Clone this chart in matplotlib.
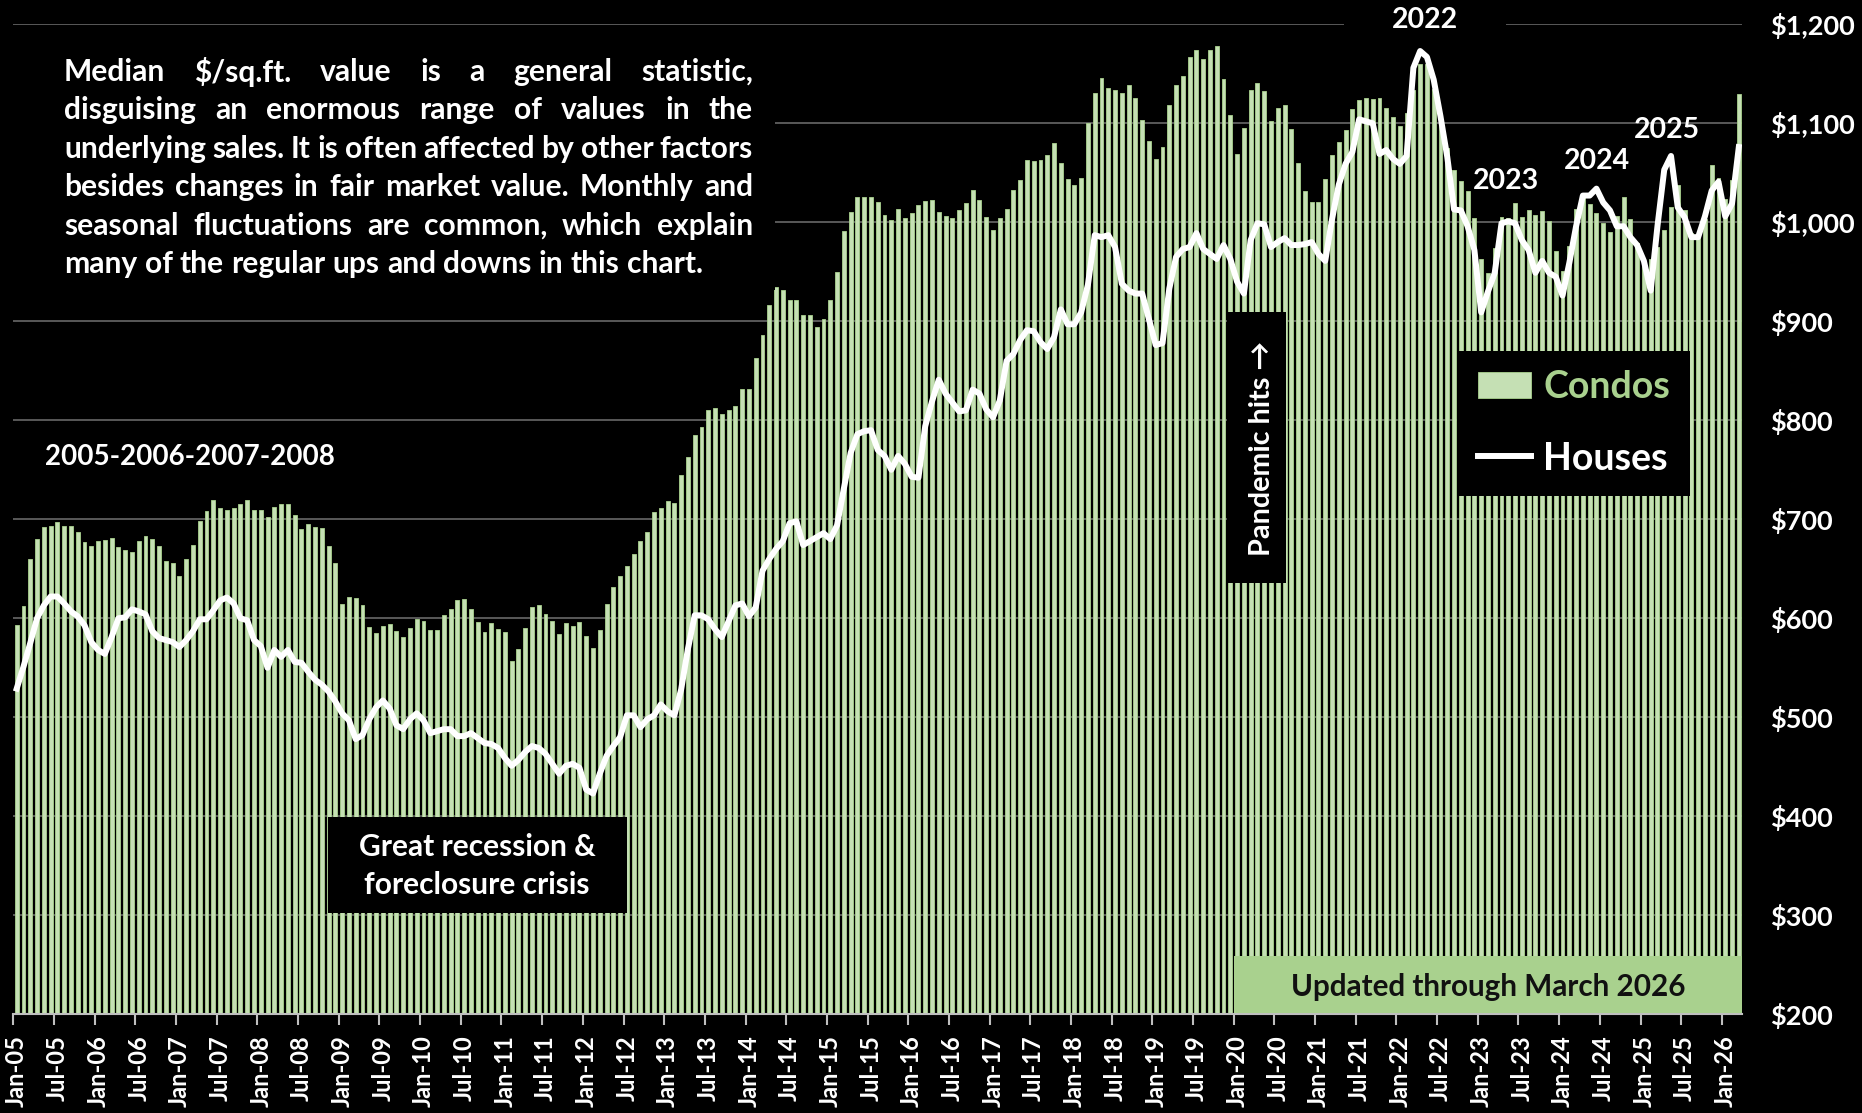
import matplotlib
matplotlib.use('Agg')
import matplotlib.pyplot as plt
import matplotlib.transforms as mtransforms
from matplotlib.patches import Rectangle
import numpy as np
import pandas as pd

plt.rcParams['font.family'] = ['Lato', 'DejaVu Sans']
plt.rcParams['font.weight'] = 'bold'
plt.rcParams['text.parse_math'] = False

# monthly data, Jan-2005 .. Mar-2026
months = pd.date_range('2005-01-01', '2026-03-01', freq='MS')

condos = [593, 612, 660, 680, 692, 693, 697, 693, 693, 687, 677, 673,
          678, 679, 681, 672, 669, 667, 678, 683, 680, 673, 658, 656,
          643, 660, 674, 698, 708, 719, 711, 709, 711, 715, 719, 709,
          709, 702, 712, 715, 715, 704, 690, 695, 692, 691, 673, 656,
          614, 622, 621, 613, 591, 585, 592, 594, 587, 581, 590, 599,
          597, 588, 588, 603, 609, 618, 619, 609, 596, 586, 595, 589,
          586, 557, 569, 590, 611, 613, 604, 597, 584, 595, 592, 596,
          582, 570, 588, 614, 632, 643, 653, 665, 678, 687, 707, 711,
          718, 716, 745, 763, 785, 793, 810, 812, 806, 810, 814, 832,
          832, 863, 886, 916, 935, 932, 922, 922, 906, 906, 894, 902,
          922, 950, 991, 1010, 1026, 1026, 1026, 1021, 1007, 1002, 1013, 1004,
          1009, 1017, 1022, 1023, 1010, 1006, 1004, 1012, 1020, 1033, 1023, 1005,
          992, 1004, 1013, 1033, 1043, 1063, 1062, 1063, 1068, 1080, 1060, 1044,
          1038, 1045, 1100, 1131, 1146, 1136, 1134, 1131, 1139, 1126, 1103, 1082,
          1064, 1076, 1118, 1139, 1148, 1167, 1174, 1165, 1174, 1178, 1145, 1108,
          1069, 1095, 1134, 1141, 1133, 1102, 1115, 1118, 1094, 1060, 1032, 1021,
          1021, 1044, 1068, 1081, 1093, 1114, 1124, 1126, 1125, 1126, 1115, 1106,
          1097, 1110, 1134, 1160, 1160, 1135, 1104, 1075, 1053, 1042, 1032, 1004,
          963, 949, 974, 1005, 1004, 1020, 1005, 1012, 1007, 1011, 1001, 971,
          951, 976, 1013, 1029, 1018, 1009, 999, 990, 1006, 1026, 1003, 979,
          961, 963, 975, 992, 1015, 1038, 1012, 989, 986, 1003, 1058, 1045,
          1024, 1043, 1130]

houses = [529, 551, 575, 600, 613, 622, 622, 615, 607, 602, 593, 576,
          568, 564, 581, 600, 601, 609, 607, 604, 587, 580, 578, 576,
          571, 578, 587, 599, 599, 608, 618, 621, 615, 600, 598, 578,
          572, 550, 568, 561, 568, 556, 555, 546, 538, 533, 526, 516,
          504, 497, 478, 482, 498, 510, 517, 509, 492, 488, 498, 504,
          497, 484, 486, 488, 488, 481, 481, 484, 479, 474, 473, 469,
          459, 451, 457, 465, 471, 469, 463, 453, 443, 451, 453, 449,
          427, 423, 443, 461, 471, 480, 502, 502, 490, 498, 502, 513,
          506, 502, 528, 569, 603, 603, 599, 589, 581, 597, 613, 615,
          602, 611, 648, 660, 670, 678, 696, 698, 674, 678, 682, 686,
          680, 694, 731, 767, 786, 789, 790, 770, 764, 750, 764, 756,
          743, 742, 794, 819, 841, 827, 818, 809, 810, 831, 827, 811,
          803, 820, 860, 867, 881, 891, 890, 879, 872, 884, 912, 897,
          897, 909, 937, 987, 985, 987, 975, 938, 931, 928, 928, 902,
          876, 878, 933, 965, 973, 975, 989, 973, 968, 963, 977, 963,
          940, 928, 982, 999, 998, 975, 980, 984, 977, 977, 978, 980,
          968, 961, 1003, 1038, 1059, 1071, 1104, 1102, 1100, 1069, 1073, 1064,
          1059, 1067, 1156, 1173, 1167, 1144, 1107, 1066, 1013, 1012, 996, 972,
          909, 930, 949, 999, 1001, 999, 982, 972, 949, 961, 949, 945,
          926, 959, 996, 1027, 1027, 1034, 1020, 1012, 996, 996, 985, 977,
          961, 931, 996, 1053, 1067, 1015, 1005, 985, 985, 1006, 1032, 1041,
          1006, 1019, 1076]

price_ticks = list(range(200, 1201, 100))

note_lines = ["Median $/sq.ft. value is a general statistic,",
              "disguising an enormous range of values in the",
              "underlying sales. It is often affected by other factors",
              "besides changes in fair market value. Monthly and",
              "seasonal fluctuations are common, which explain",
              "many of the regular ups and downs in this chart."]

GREEN = '#a9d18e'
LIGHT = '#c5e0b4'
GRID = '#595959'

W, H = 1862, 1113
fig = plt.figure(figsize=(W / 100, H / 100), dpi=100, facecolor='black')
# pixel coords with origin top-left
px = mtransforms.Affine2D().scale(1 / W, -1 / H).translate(0, 1) + fig.transFigure

ax = fig.add_axes([13.3 / W, 1 - 1014.3 / H, (1742.2 - 13.3) / W, (1014.3 - 24.3) / H])
ax.set_facecolor('black')

x = np.arange(len(months))
bars = ax.bar(x, condos, width=0.58, color=LIGHT, edgecolor=GREEN, linewidth=0.6,
              zorder=2, label='Condos')
line, = ax.plot(x, houses, color='white', lw=4.3, zorder=3, solid_joinstyle='round',
                label='Houses')

ax.set_xlim(-0.5, len(months) - 0.5)
ax.set_ylim(200, 1200)
ax.set_yticks(price_ticks)
ax.set_yticklabels([f'${v:,}' for v in price_ticks])
ax.yaxis.tick_right()
ax.tick_params(axis='y', length=0, pad=20, labelsize=19.5, labelcolor='white')
ax.yaxis.grid(True, color=GRID, lw=1.4)
ax.set_axisbelow(True)

ax.set_xticks(x[::6])
ax.set_xticklabels([m.strftime('%b-%y') for m in months[::6]], rotation=90)
ax.set_xticks(x[::6] - 0.5, minor=True)
ax.tick_params(axis='x', which='major', length=0, pad=15, labelsize=17, labelcolor='white')
ax.tick_params(axis='x', which='minor', length=8, width=1.5, color='#bfbfbf')
for s in ['top', 'left', 'right']:
    ax.spines[s].set_visible(False)
ax.spines['bottom'].set_color('#bfbfbf')
ax.spines['bottom'].set_linewidth(1.5)

# boxes drawn over the plot
def box(x0, y0, x1, y1, color='black'):
    fig.patches.append(Rectangle((x0, y0), x1 - x0, y1 - y0, transform=px,
                                 facecolor=color, edgecolor='none', zorder=1))

box(12, 26, 775, 290)
box(1344, 0, 1506, 36)
box(328, 817, 627, 913)
box(1227, 312, 1286, 583)
box(1457, 351, 1690, 496)
box(1234, 956, 1742, 1013, GREEN)

# justified note text, size fitted so the last line is ~642 px wide
r = fig.canvas.get_renderer()
probe = fig.text(0, 0, note_lines[-1], fontsize=18, transform=px)
note_size = 18 * 642 / probe.get_window_extent(r).width
probe.remove()
sp = fig.text(0, 0, 'a a', fontsize=note_size, transform=px)
sp2 = fig.text(0, 0, 'aa', fontsize=note_size, transform=px)
space = sp.get_window_extent(r).width - sp2.get_window_extent(r).width
sp.remove()
sp2.remove()
for k, ln in enumerate(note_lines):
    words = ln.split()
    ts = [fig.text(0, 72 + 38.4 * k, w, transform=px, fontsize=note_size, color='white',
                   va='center', zorder=3) for w in words]
    widths = [t.get_window_extent(r).width for t in ts]
    gap = space if k == len(note_lines) - 1 else (753 - 64 - sum(widths)) / (len(words) - 1)
    xx = 64
    for t, w in zip(ts, widths):
        t.set_x(xx)
        xx += w + gap

def label(xp, yp, s, size, **kw):
    kw.setdefault('color', 'white')
    fig.text(xp, yp, s, transform=px, fontsize=size, ha='center', va='center', zorder=3, **kw)

label(190, 457, '2005-2006-2007-2008', 20)
label(1425, 20, '2022', 20.5)
label(1506, 181, '2023', 20.5)
label(1597, 161, '2024', 20.5)
label(1667, 130, '2025', 20.5)
label(477, 847, 'Great recession &', 21.5)
label(477, 885, 'foreclosure crisis', 21.5)
label(1262, 448, 'Pandemic hits \u2192', 20.7, rotation=90)
label(1488, 987, 'Updated through March 2026', 21.3, color='#111111')

leg = fig.legend(handles=[bars, line], loc='upper left', bbox_to_anchor=(1478, 370),
                 bbox_transform=px, frameon=False, fontsize=27, borderaxespad=0, borderpad=0,
                 handlelength=1.42, handleheight=0.7, handletextpad=0.32, labelspacing=1.0)
leg.get_texts()[0].set_color(GREEN)
leg.get_texts()[1].set_color('white')
leg.set_zorder(5)

fig.savefig('out.png', dpi=100, facecolor='black')
